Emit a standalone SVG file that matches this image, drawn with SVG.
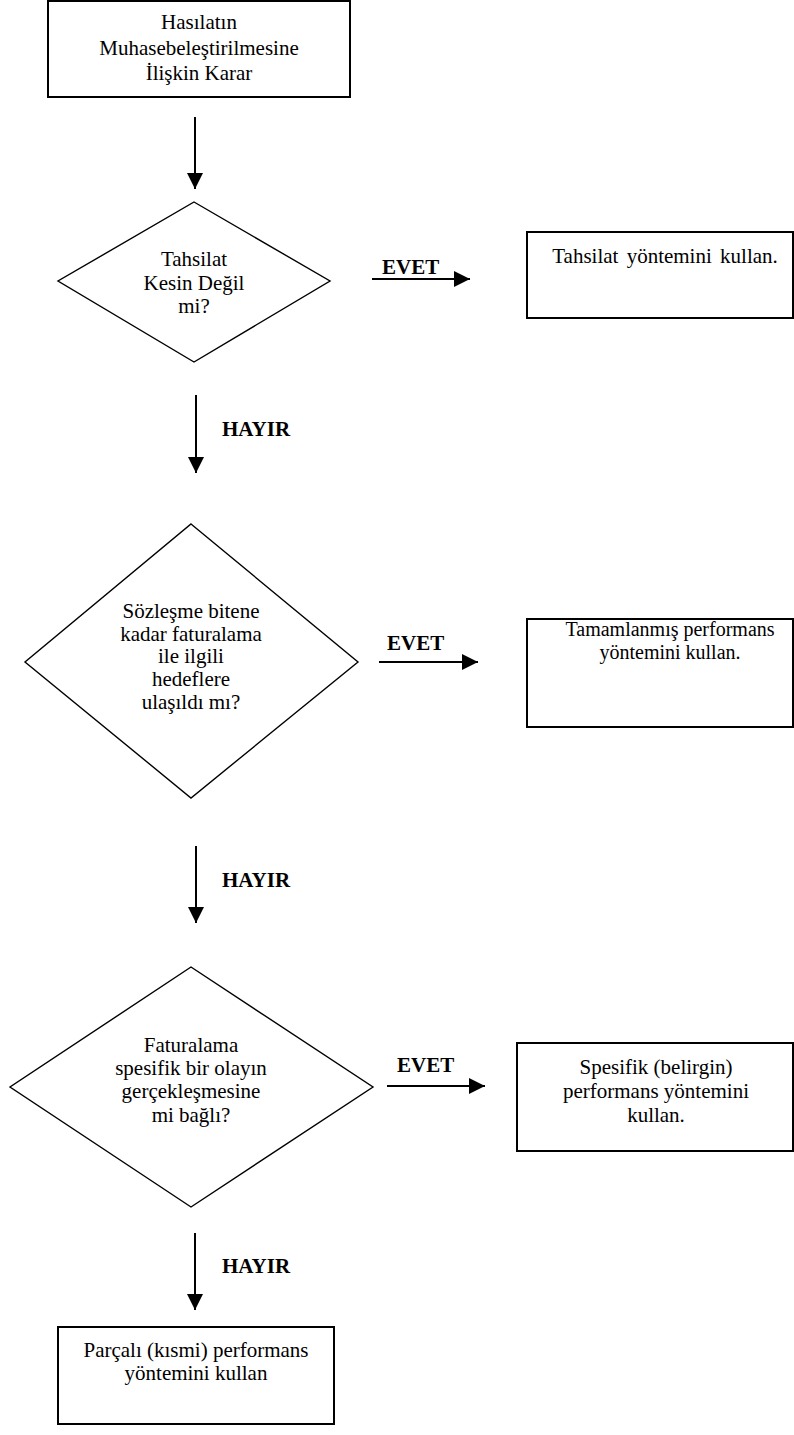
<svg xmlns="http://www.w3.org/2000/svg" width="794" height="1435" viewBox="0 0 794 1435">
<style>
  .box { fill: #fff; stroke: #000; stroke-width: 2; }
  .dia { fill: #fff; stroke: #000; stroke-width: 1.4; }
  .t { font-family: "Liberation Serif", "Times New Roman", serif; font-size: 21px; fill: #000; text-anchor: middle; }
  .sm { font-size: 20px; }
  .lbl { font-family: "Liberation Serif", "Times New Roman", serif; font-size: 21px; font-weight: bold; fill: #000; }
  .conn { stroke: #000; stroke-width: 2; fill: none; marker-end: url(#arr); }
</style>
<defs>
  <marker id="arr" markerUnits="userSpaceOnUse" markerWidth="16" markerHeight="16" refX="16" refY="8" orient="auto">
    <path d="M0,0 L16,8 L0,16 z" fill="#000"/>
  </marker>
</defs>
<rect width="794" height="1435" fill="#fff"/>

<g id="start">
  <rect class="box" x="48" y="1" width="302" height="96"/>
  <text class="t" x="199" y="29">Hasılatın</text>
  <text class="t" x="199" y="55">Muhasebeleştirilmesine</text>
  <text class="t" x="199" y="80">İlişkin Karar</text>
</g>

<g id="d1">
  <polygon class="dia" points="194,202 330,281 194,362 58,281"/>
  <text class="t" x="194" y="266">Tahsilat</text>
  <text class="t" x="194" y="290">Kesin Değil</text>
  <text class="t" x="194" y="313">mi?</text>
</g>

<g id="r1">
  <rect class="box" x="527" y="232" width="266" height="86"/>
  <text class="t" x="665" y="263" style="word-spacing:3px">Tahsilat yöntemini kullan.</text>
</g>

<g id="d2">
  <polygon class="dia" points="191,524 358,662 191,798 25,662"/>
  <text class="t" x="191" y="618">Sözleşme bitene</text>
  <text class="t" x="191" y="641">kadar faturalama</text>
  <text class="t" x="191" y="663">ile ilgili</text>
  <text class="t" x="191" y="686">hedeflere</text>
  <text class="t" x="191" y="709">ulaşıldı mı?</text>
</g>

<g id="r2">
  <rect class="box" x="527" y="619" width="266" height="108"/>
  <text class="t sm" x="670" y="636">Tamamlanmış performans</text>
  <text class="t sm" x="670" y="659">yöntemini kullan.</text>
</g>

<g id="d3">
  <polygon class="dia" points="191,967 373,1087 191,1207 10,1087"/>
  <text class="t" x="191" y="1052">Faturalama</text>
  <text class="t" x="191" y="1075">spesifik bir olayın</text>
  <text class="t" x="191" y="1098">gerçekleşmesine</text>
  <text class="t" x="191" y="1122">mi bağlı?</text>
</g>

<g id="r3">
  <rect class="box" x="517" y="1043" width="276" height="108"/>
  <text class="t" x="656" y="1074">Spesifik (belirgin)</text>
  <text class="t" x="656" y="1098">performans yöntemini</text>
  <text class="t" x="656" y="1122">kullan.</text>
</g>

<g id="r4">
  <rect class="box" x="58" y="1327" width="276" height="97"/>
  <text class="t" x="196" y="1357">Parçalı (kısmi) performans</text>
  <text class="t" x="196" y="1380">yöntemini kullan</text>
</g>

<g id="connectors">
  <line class="conn" x1="195" y1="117" x2="195" y2="189"/>
  <line class="conn" x1="372" y1="279" x2="470" y2="279"/>
  <line class="conn" x1="196" y1="395" x2="196" y2="473"/>
  <line class="conn" x1="379" y1="662" x2="478" y2="662"/>
  <line class="conn" x1="196" y1="846" x2="196" y2="923"/>
  <line class="conn" x1="387" y1="1086" x2="485" y2="1086"/>
  <line class="conn" x1="195" y1="1233" x2="195" y2="1310"/>
  <text class="lbl" x="382" y="274">EVET</text>
  <text class="lbl" x="387" y="650">EVET</text>
  <text class="lbl" x="397" y="1072">EVET</text>
  <text class="lbl" x="222" y="436">HAYIR</text>
  <text class="lbl" x="222" y="887">HAYIR</text>
  <text class="lbl" x="222" y="1273">HAYIR</text>
</g>
</svg>
